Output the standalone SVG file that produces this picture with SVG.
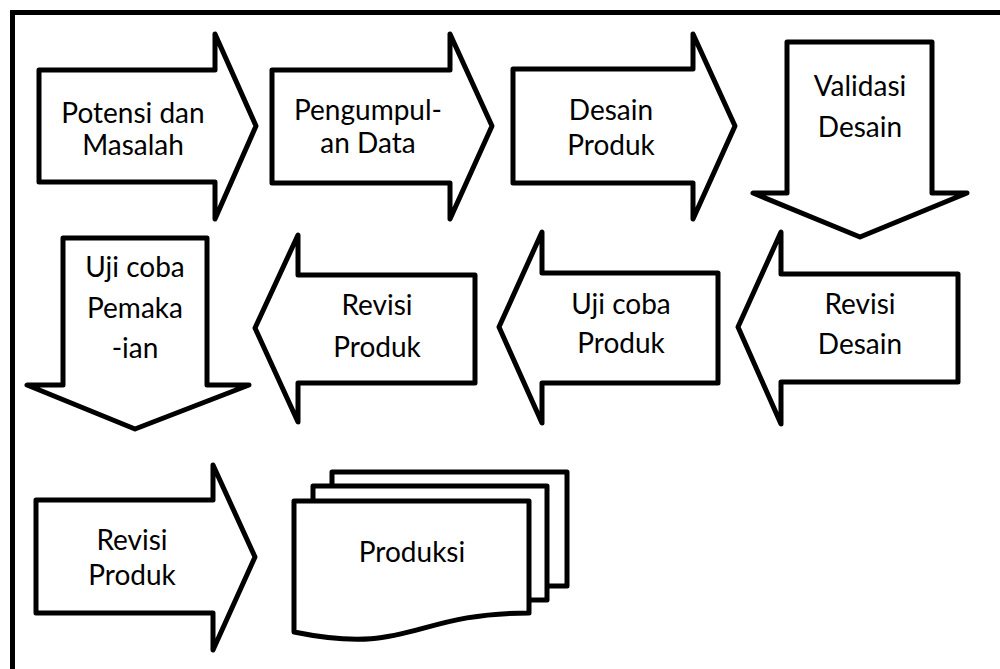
<svg xmlns="http://www.w3.org/2000/svg" width="1000" height="669" viewBox="0 0 1000 669">
<style>
.shape{fill:#fff;stroke:#000;stroke-width:5;stroke-linejoin:round}
.frame{fill:none;stroke:#000;stroke-width:5}
.lbl{font-family:Lato,"Liberation Sans",sans-serif;font-size:28px;text-anchor:middle;fill:#000}
</style>
<rect width="1000" height="669" fill="#fff"/>
<path class="frame" d="M12.5,690 V12.5 H1020"/>
<g id="connectors"/>
<g id="n1">
<path class="shape" d="M39,70 H215 V34 L256,126 L215,219 V182 H39 Z"/>
<text class="lbl" x="133" y="123">Potensi dan</text>
<text class="lbl" x="133" y="155">Masalah</text>
</g>
<g id="n2">
<path class="shape" d="M272,70 H450 V34 L492,126 L450,219 V183 H272 Z"/>
<text class="lbl" x="368" y="120">Pengumpul-</text>
<text class="lbl" x="368" y="153">an Data</text>
</g>
<g id="n3">
<path class="shape" d="M513,69 H693 V34 L735,126 L693,219 V183 H513 Z"/>
<text class="lbl" x="611" y="120">Desain</text>
<text class="lbl" x="611" y="155">Produk</text>
</g>
<g id="n4">
<path class="shape" d="M787,42 H932 V193 H967 L860,237 L753,193 H787 Z"/>
<text class="lbl" x="860" y="96">Validasi</text>
<text class="lbl" x="860" y="137">Desain</text>
</g>
<g id="n5">
<path class="shape" d="M958,274 V382 H781 V424 L738,327 L781,232 V274 Z"/>
<text class="lbl" x="860" y="314">Revisi</text>
<text class="lbl" x="860" y="354">Desain</text>
</g>
<g id="n6">
<path class="shape" d="M718,273 V383 H542 V423 L499,327 L542,232 V273 Z"/>
<text class="lbl" x="621" y="314">Uji coba</text>
<text class="lbl" x="621" y="353">Produk</text>
</g>
<g id="n7">
<path class="shape" d="M475,275 V383 H298 V422 L255,328 L298,235 V275 Z"/>
<text class="lbl" x="377" y="315">Revisi</text>
<text class="lbl" x="377" y="357">Produk</text>
</g>
<g id="n8">
<path class="shape" d="M63,238 H207 V385 H249 L135,429 L27,385 H63 Z"/>
<text class="lbl" x="135" y="277">Uji coba</text>
<text class="lbl" x="135" y="318">Pemaka</text>
<text class="lbl" x="135" y="358">-ian</text>
</g>
<g id="n9">
<path class="shape" d="M36,500 H213 V465 L255,557 L213,650 V613 H36 Z"/>
<text class="lbl" x="132" y="550">Revisi</text>
<text class="lbl" x="132" y="585">Produk</text>
</g>
<g id="n10">
<rect class="shape" x="332" y="472" width="235" height="114"/>
<rect class="shape" x="313" y="486" width="234" height="114"/>
<path class="shape" d="M294,501 H529 V613 C411.5,613 411.5,656 294,632 Z"/>
<text class="lbl" x="412" y="562">Produksi</text>
</g>
</svg>
